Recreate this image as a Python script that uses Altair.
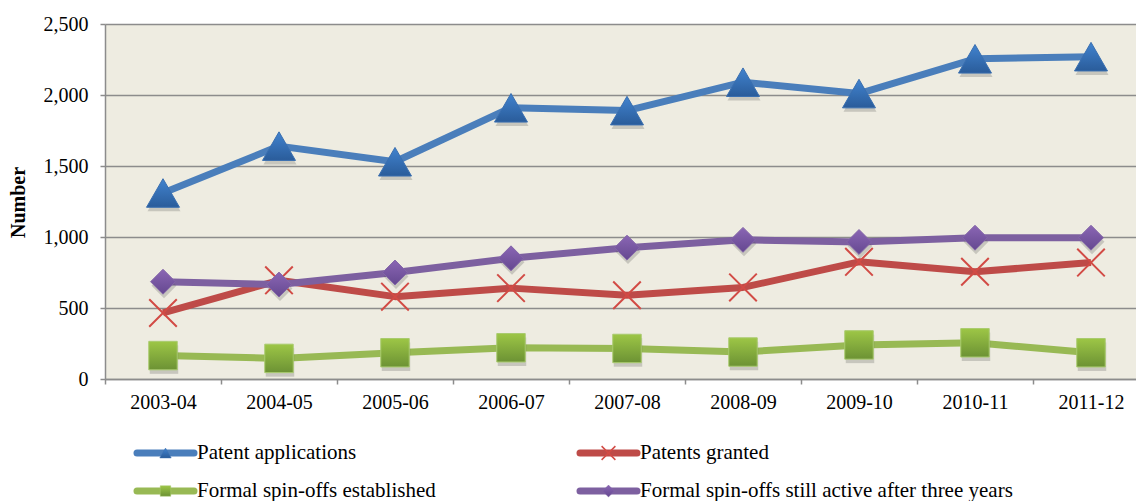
import altair as alt
import pandas as pd

# Academic years on the category axis
periods = ["2003-04", "2004-05", "2005-06", "2006-07", "2007-08",
           "2008-09", "2009-10", "2010-11", "2011-12"]

# Series values, one list per indicator
patent_applications = [1310, 1640, 1530, 1910, 1890, 2090, 2010, 2255, 2270]
patents_granted = [465, 695, 580, 640, 590, 645, 825, 755, 820]
spinoffs_established = [165, 145, 185, 220, 215, 190, 240, 255, 185]
spinoffs_active = [685, 665, 750, 850, 925, 980, 965, 995, 995]

series_names = [
    "Patent applications",
    "Patents granted",
    "Formal spin-offs established",
    "Formal spin-offs still active after three years",
]
series_values = [patent_applications, patents_granted,
                 spinoffs_established, spinoffs_active]

y_ticks = [0, 500, 1000, 1500, 2000, 2500]

rows = []
for name, vals in zip(series_names, series_values):
    for p, v in zip(periods, vals):
        rows.append({"period": p, "value": v, "series": name})
df = pd.DataFrame(rows)

FONT = "Liberation Serif"
GRID = "#8C8C8C"
X_PATH = "M-1,-1L1,1M-1,1L1,-1"


def grad(top, bottom):
    return alt.Gradient(
        gradient="linear", x1=0, y1=0, x2=0, y2=1,
        stops=[alt.GradientStop(color=top, offset=0),
               alt.GradientStop(color=bottom, offset=1)],
    )


# Per-series styling: line colour, marker shape, marker fill, marker size
styles = {
    "Patent applications": dict(line="#4A7EBB", shape="triangle-up",
                                fill=grad("#4183CF", "#2A5C9A"), size=1089,
                                stroke="#3A6FB0", filled=True, lsize=130),
    "Patents granted": dict(line="#BE4B48", shape=X_PATH, fill=None,
                            size=760, stroke="#D24B45", filled=False, lsize=190),
    "Formal spin-offs established": dict(line="#98B954", shape="square",
                                         fill=grad("#9DC646", "#6C9234"), size=810,
                                         stroke="#A9CB6E", filled=True, lsize=110),
    "Formal spin-offs still active after three years": dict(
        line="#7D60A0", shape="diamond", fill=grad("#8A66B4", "#654890"),
        size=620, stroke="#8466A8", filled=True, lsize=140),
}

x_enc = alt.X(
    "period:N", sort=periods, bandPosition=0.5,
    scale=alt.Scale(type="band", range=[0, 1044], paddingInner=0, paddingOuter=0),
    axis=alt.Axis(title=None, tickBand="extent", grid=False, domainColor=GRID,
                  domainWidth=1.5, tickColor=GRID, tickWidth=1.5, tickSize=5,
                  labelFont=FONT, labelFontSize=20, labelColor="black",
                  labelPadding=8, labelAngle=0),
)
y_enc = alt.Y(
    "value:Q",
    scale=alt.Scale(domain=[0, 2500], nice=False),
    axis=alt.Axis(values=y_ticks, format=",.0f", title="Number",
                  titleFont=FONT, titleFontSize=20, titleFontWeight="bold",
                  titleColor="black", titleAngle=-90, titleX=-87, titleY=178,
                  titleAlign="center", titleBaseline="middle",
                  grid=True, gridColor=GRID, gridWidth=1.5,
                  domainColor=GRID, domainWidth=1.5, tickColor=GRID,
                  tickWidth=1.5, tickSize=5, labelFont=FONT, labelFontSize=20,
                  labelColor="black", labelPadding=12),
)

base = alt.Chart(df)
layers = []

# Lines first, then markers on top
for name in series_names:
    st = styles[name]
    layers.append(
        base.transform_filter(alt.datum.series == name)
        .mark_line(color=st["line"], strokeWidth=7, strokeJoin="round")
        .encode(x=x_enc, y=y_enc)
    )

for name in series_names:
    st = styles[name]
    sub = base.transform_filter(alt.datum.series == name)
    # soft drop shadow beneath each marker
    if st["filled"]:
        layers.append(
            sub.mark_point(shape=st["shape"], size=st["size"], filled=True,
                           color="#555555", opacity=0.25, xOffset=1, yOffset=4)
            .encode(x=x_enc, y=y_enc)
        )
        layers.append(
            sub.mark_point(shape=st["shape"], size=st["size"], filled=True,
                           fill=st["fill"], stroke=st["stroke"], strokeWidth=1,
                           opacity=1)
            .encode(x=x_enc, y=y_enc)
        )
    else:
        layers.append(
            sub.mark_point(shape=st["shape"], size=st["size"], filled=False,
                           stroke=st["stroke"], strokeWidth=2, opacity=1)
            .encode(x=x_enc, y=y_enc)
        )

# Legend below the plot: two columns, two rows
legend_slots = [(32, 89, 92, 429), (475, 532, 535, 429),
                (32, 89, 92, 467), (475, 532, 535, 467)]
for name, (lx1, lx2, tx, ly) in zip(series_names, legend_slots):
    st = styles[name]
    ldata = alt.Data(values=[{"series": name}])
    layers.append(
        alt.Chart(ldata).mark_rule(color=st["line"], strokeWidth=7, strokeCap="round")
        .encode(x=alt.value(lx1), x2=alt.value(lx2), y=alt.value(ly))
    )
    mx = (lx1 + lx2) / 2
    if st["filled"]:
        layers.append(
            alt.Chart(ldata).mark_point(shape=st["shape"], size=st["lsize"],
                                        filled=True, fill=st["fill"],
                                        stroke=st["stroke"], strokeWidth=0.5,
                                        opacity=1)
            .encode(x=alt.value(mx), y=alt.value(ly))
        )
    else:
        layers.append(
            alt.Chart(ldata).mark_point(shape=st["shape"], size=st["lsize"],
                                        filled=False, stroke=st["stroke"],
                                        strokeWidth=1.5, opacity=1)
            .encode(x=alt.value(mx), y=alt.value(ly))
        )
    layers.append(
        alt.Chart(ldata).mark_text(align="left", baseline="middle", font=FONT,
                                   fontSize=21, color="black")
        .encode(x=alt.value(tx), y=alt.value(ly), text="series:N")
    )

chart = (
    alt.layer(*layers)
    .properties(
        width=1031, height=355,
        padding={"left": 105, "top": 24, "right": 0, "bottom": 122},
        autosize=alt.AutoSizeParams(type="none"),
        background="white",
    )
    .configure_view(fill="#EEECE1", stroke=None)
)

chart.save("out.html", embed_options={"renderer": "svg", "actions": False})
